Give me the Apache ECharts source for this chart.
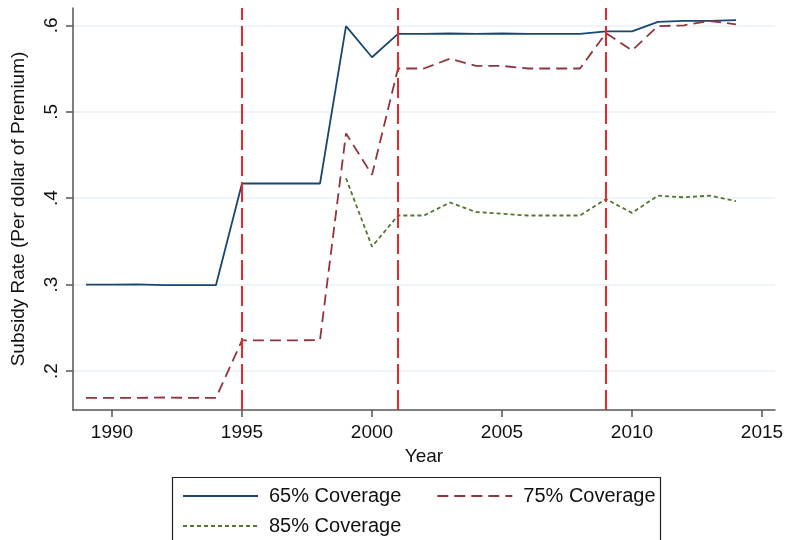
<!DOCTYPE html>
<html>
<head>
<meta charset="utf-8">
<script src="https://cdn.jsdelivr.net/npm/echarts@6/dist/echarts.min.js"></script>
<style>html,body{margin:0;padding:0;background:#fff}#c{width:785px;height:540px}</style>
</head>
<body>
<div id="c"></div>
<script>
const years = [1989,1990,1991,1992,1993,1994,1995,1996,1997,1998,1999,2000,2001,2002,2003,2004,2005,2006,2007,2008,2009,2010,2011,2012,2013,2014];
const cov65 = [0.300,0.300,0.3002,0.2995,0.2995,0.2995,0.417,0.417,0.417,0.417,0.599,0.563,0.590,0.590,0.5905,0.590,0.5905,0.590,0.590,0.590,0.593,0.593,0.604,0.605,0.605,0.606];
const cov75 = [0.169,0.169,0.169,0.1695,0.169,0.169,0.2355,0.2355,0.2355,0.236,0.475,0.427,0.550,0.550,0.5615,0.553,0.553,0.550,0.550,0.550,0.591,0.571,0.599,0.600,0.605,0.601];
const cov85 = [null,null,null,null,null,null,null,null,null,null,0.423,0.344,0.380,0.380,0.395,0.384,0.382,0.380,0.380,0.380,0.399,0.383,0.403,0.401,0.403,0.3965];
const policyYears = [1995, 2001, 2009];
const xTicks = [1990, 1995, 2000, 2005, 2010, 2015];
const yTicks = [0.2, 0.3, 0.4, 0.5, 0.6];
const seriesNames = ['65% Coverage', '75% Coverage', '85% Coverage'];

const font = 'Liberation Sans, Arial, Helvetica, sans-serif';
const axisColor = '#555555';
const pair = arr => years.map((y, i) => [y, arr[i]]);

const legendCommon = {
  orient: 'horizontal', itemWidth: 75, itemHeight: 14, padding: 0,
  itemStyle: {opacity: 0, color: 'transparent', borderWidth: 0},
  textStyle: {fontSize: 20, color: '#111', fontFamily: font, padding: [0, 0, 0, 6]}
};

const chart = echarts.init(document.getElementById('c'), null, {renderer: 'canvas'});
chart.setOption({
  animation: false,
  backgroundColor: '#ffffff',
  textStyle: {fontFamily: font},
  grid: {left: 73, right: 10, top: 8, bottom: 130, containLabel: false, outerBoundsMode: 'none'},
  xAxis: {
    type: 'value', min: 1988.5, max: 2015.5,
    name: 'Year', nameLocation: 'middle', nameGap: 35,
    nameTextStyle: {fontSize: 19, color: '#111', fontFamily: font},
    axisLine: {show: true, onZero: false, lineStyle: {color: axisColor, width: 1.5}},
    axisTick: {show: true, customValues: xTicks, length: 7, lineStyle: {color: axisColor, width: 1.5}},
    axisLabel: {customValues: xTicks, fontSize: 19, color: '#111', margin: 13, fontFamily: font, formatter: v => String(v)},
    splitLine: {show: false}
  },
  yAxis: {
    type: 'value', min: 0.155, max: 0.62,
    name: 'Subsidy Rate (Per dollar of Premium)', nameLocation: 'middle', nameGap: 45,
    nameTextStyle: {fontSize: 19, color: '#111', fontFamily: font},
    axisLine: {show: true, lineStyle: {color: axisColor, width: 1.5}},
    axisTick: {show: true, customValues: yTicks, length: 7, lineStyle: {color: axisColor, width: 1.5}},
    axisLabel: {customValues: yTicks, rotate: 90, fontSize: 19, color: '#111', margin: 12, fontFamily: font,
      formatter: v => '.' + Math.round(v * 10)},
    splitLine: {show: true, lineStyle: {color: '#e9f1f4', width: 1.5}}
  },
  legend: [
    Object.assign({}, legendCommon, {data: [seriesNames[0], seriesNames[1]], left: 182, top: 486, itemGap: 35,
      textStyle: Object.assign({}, legendCommon.textStyle, {width: 132})}),
    Object.assign({}, legendCommon, {data: [seriesNames[2]], left: 182, top: 516})
  ],
  graphic: [{type: 'rect', shape: {x: 172.5, y: 477.5, width: 488, height: 80},
    style: {fill: 'none', stroke: '#222', lineWidth: 1.2}, silent: true}],
  series: [
    {name: seriesNames[0], type: 'line', data: pair(cov65), symbol: 'none', z: 3,
     lineStyle: {color: '#1a476f', width: 1.8, type: 'solid'}, itemStyle: {color: '#1a476f'},
     markLine: {silent: true, symbol: 'none', label: {show: false}, z: 5,
       lineStyle: {color: '#e8272e', width: 2, type: [20, 6]},
       data: policyYears.map(y => ({xAxis: y}))}},
    {name: seriesNames[1], type: 'line', data: pair(cov75), symbol: 'none', z: 3,
     lineStyle: {color: '#90353b', width: 1.8, type: [11, 6]}, itemStyle: {color: '#90353b'}},
    {name: seriesNames[2], type: 'line', data: pair(cov85), symbol: 'none', z: 3, connectNulls: false,
     lineStyle: {color: '#55752f', width: 1.8, type: [4, 3]}, itemStyle: {color: '#55752f'}}
  ]
});
</script>
</body>
</html>
